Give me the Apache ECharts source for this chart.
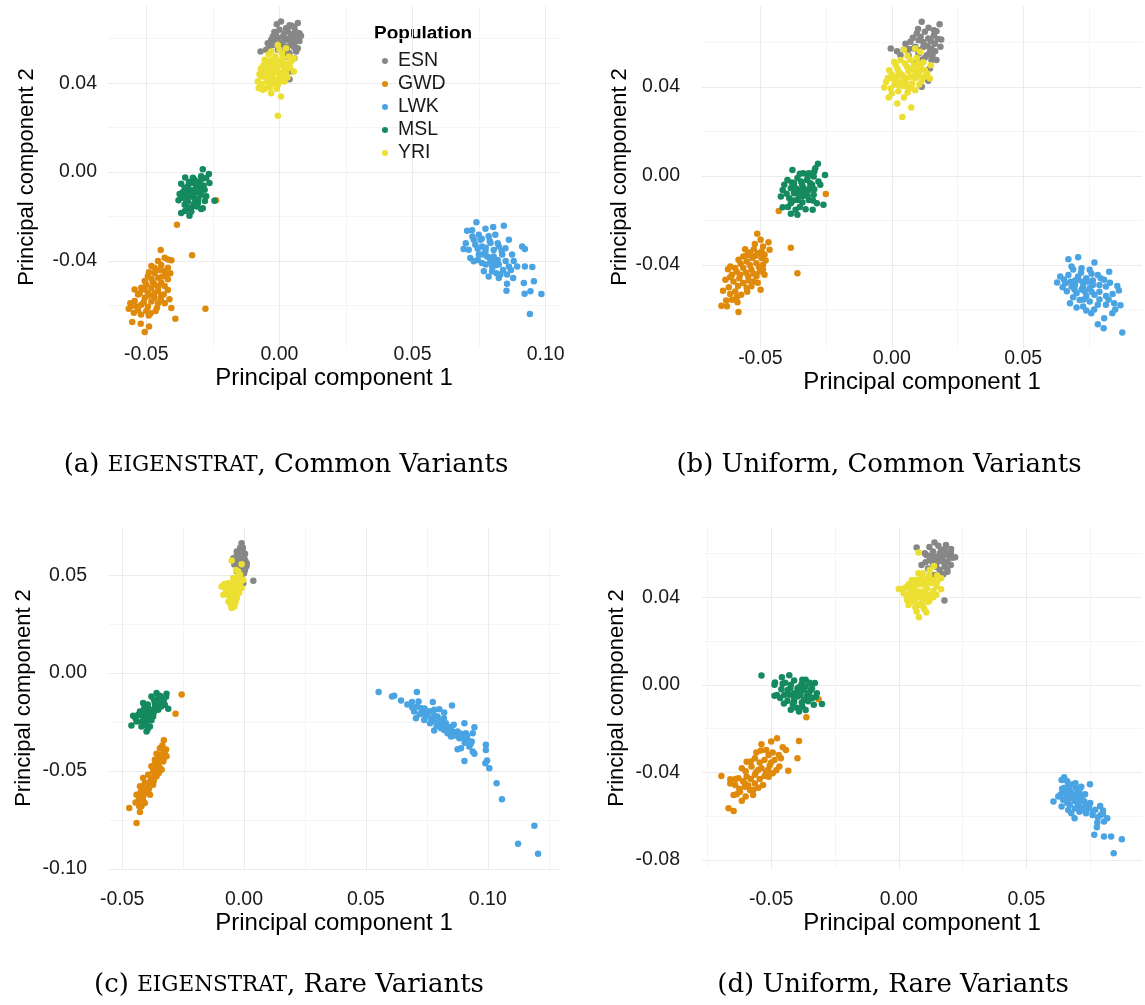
<!DOCTYPE html>
<html>
<head>
<meta charset="utf-8">
<script src="https://cdn.jsdelivr.net/npm/echarts@6/dist/echarts.min.js"></script>
<style>
html, body { margin: 0; padding: 0; background: #ffffff; }
#chart { width: 1145px; height: 1005px; }
</style>
</head>
<body>
<div id="chart"></div>
<script>
// Populations and their colours
const populations = ['ESN', 'GWD', 'LWK', 'MSL', 'YRI'];
const popColors = ['#878787', '#E08A0B', '#4AA3E3', '#15895F', '#ECDF31'];

// Axis tick values per panel
const ticksX = [[-0.05, 0.00, 0.05, 0.10], [-0.05, 0.00, 0.05], [-0.05, 0.00, 0.05, 0.10], [-0.05, 0.00, 0.05]];
const ticksY = [[-0.04, 0.00, 0.04], [-0.04, 0.00, 0.04], [-0.10, -0.05, 0.00, 0.05], [-0.08, -0.04, 0.00, 0.04]];

// Panel captions
const captionLabels = ['(a) ', '(b) Uniform, Common Variants', '(c) ', '(d) Uniform, Rare Variants'];

// ---- (a) EIGENSTRAT, common variants: [PC1, PC2] ----
const esnA = [[0.0006,0.0677],[0.0046,0.0658],[0.0069,0.0670],[0.0081,0.0613],[0.0060,0.0632],[0.0025,0.0647],[-0.0013,0.0617],[0.0013,0.0610],[0.0038,0.0602],[0.0056,0.0580],[-0.0019,0.0587],[0.0006,0.0580],[0.0031,0.0565],[0.0063,0.0542],[-0.0038,0.0565],[-0.0071,0.0542],[-0.0006,0.0550],[0.0025,0.0595],[0.0050,0.0617],[0.0038,0.0535],[0.0056,0.0512],[0.0069,0.0557],[-0.0025,0.0610],[0.0044,0.0452],[0.0038,0.0418],[-0.0044,0.0580],[0.0019,0.0625],[0.0044,0.0587],[-0.0006,0.0602],[0.0031,0.0540],[0.0013,0.0570],[-0.0025,0.0572],[0.0050,0.0570],[0.0075,0.0590],
  [0.0000,0.0640],[0.0031,0.0635],[0.0056,0.0650],[-0.0019,0.0630],[0.0019,0.0600],[0.0063,0.0605],[-0.0031,0.0595],[0.0044,0.0620],[0.0010,0.0555],[0.0075,0.0625],[-0.0050,0.0550],[0.0025,0.0520],[0.0056,0.0560],[0.0038,0.0660],[-0.0010,0.0665]];
const gwdA = [[-0.0446,-0.0350],[-0.0419,-0.0393],[-0.0406,-0.0396],[-0.0431,-0.0385],[-0.0456,-0.0400],[-0.0481,-0.0422],[-0.0444,-0.0418],[-0.0419,-0.0430],[-0.0431,-0.0445],[-0.0469,-0.0454],[-0.0494,-0.0468],[-0.0456,-0.0475],[-0.0419,-0.0482],[-0.0444,-0.0498],[-0.0506,-0.0490],[-0.0469,-0.0505],[-0.0431,-0.0512],[-0.0481,-0.0520],[-0.0519,-0.0520],[-0.0544,-0.0528],[-0.0456,-0.0535],[-0.0419,-0.0530],[-0.0494,-0.0543],[-0.0531,-0.0550],[-0.0444,-0.0557],[-0.0469,-0.0565],[-0.0506,-0.0565],[-0.0413,-0.0572],[-0.0544,-0.0580],[-0.0481,-0.0582],[-0.0456,-0.0590],[-0.0431,-0.0590],[-0.0519,-0.0597],[-0.0556,-0.0602],[-0.0494,-0.0605],[-0.0566,-0.0614],[-0.0531,-0.0620],[-0.0406,-0.0611],[-0.0547,-0.0632],[-0.0484,-0.0635],[-0.0491,-0.0645],[-0.0391,-0.0660],[-0.0553,-0.0674],[-0.0521,-0.0682],[-0.0490,-0.0694],[-0.0506,-0.0719],[-0.0385,-0.0237],[-0.0328,-0.0374],[-0.0278,-0.0614],[-0.0238,-0.0127],[-0.0469,-0.0430],[-0.0481,-0.0480],[-0.0506,-0.0528],
  [-0.0450,-0.0440],[-0.0425,-0.0460],[-0.0475,-0.0495],[-0.0500,-0.0505],[-0.0455,-0.0515],[-0.0490,-0.0555],[-0.0525,-0.0545],[-0.0470,-0.0545],[-0.0435,-0.0550],[-0.0510,-0.0585],[-0.0460,-0.0610],[-0.0535,-0.0605],[-0.0500,-0.0625],[-0.0560,-0.0590],[-0.0445,-0.0575],[-0.0465,-0.0625],[-0.0520,-0.0640],[-0.0410,-0.0455],[-0.0440,-0.0470],[-0.0490,-0.0450]];
const lwkA = [[0.0740,-0.0226],[0.0705,-0.0264],[0.0724,-0.0262],[0.0774,-0.0255],[0.0803,-0.0247],[0.0843,-0.0241],[0.0749,-0.0282],[0.0786,-0.0289],[0.0811,-0.0282],[0.0862,-0.0304],[0.0692,-0.0346],[0.0711,-0.0349],[0.0736,-0.0327],[0.0761,-0.0334],[0.0793,-0.0319],[0.0824,-0.0334],[0.0849,-0.0342],[0.0717,-0.0386],[0.0749,-0.0371],[0.0774,-0.0356],[0.0805,-0.0379],[0.0837,-0.0371],[0.0874,-0.0371],[0.0912,-0.0334],[0.0922,-0.0346],[0.0730,-0.0401],[0.0761,-0.0409],[0.0793,-0.0401],[0.0824,-0.0416],[0.0862,-0.0424],[0.0893,-0.0424],[0.0922,-0.0424],[0.0950,-0.0427],[0.0768,-0.0446],[0.0799,-0.0446],[0.0830,-0.0461],[0.0786,-0.0469],[0.0855,-0.0461],[0.0878,-0.0476],[0.0824,-0.0476],[0.0855,-0.0502],[0.0918,-0.0499],[0.0956,-0.0491],[0.0853,-0.0533],[0.0921,-0.0547],[0.0943,-0.0536],[0.0984,-0.0548],[0.0941,-0.0638],[0.0799,-0.0424],[0.0811,-0.0394],[0.0755,-0.0304],[0.0730,-0.0304],[0.0780,-0.0379],
  [0.0725,-0.0290],[0.0760,-0.0300],[0.0790,-0.0310],[0.0820,-0.0320],[0.0745,-0.0345],[0.0775,-0.0340],[0.0805,-0.0350],[0.0835,-0.0355],[0.0760,-0.0370],[0.0790,-0.0385],[0.0820,-0.0395],[0.0850,-0.0400],[0.0775,-0.0415],[0.0810,-0.0420],[0.0840,-0.0440],[0.0870,-0.0440],[0.0815,-0.0455],[0.0745,-0.0395],[0.0700,-0.0320],[0.0880,-0.0400]];
const mslA = [[-0.0288,0.0013],[-0.0265,-0.0009],[-0.0294,-0.0019],[-0.0354,-0.0024],[-0.0325,-0.0049],[-0.0369,-0.0052],[-0.0300,-0.0042],[-0.0263,-0.0049],[-0.0344,-0.0064],[-0.0313,-0.0072],[-0.0281,-0.0079],[-0.0363,-0.0091],[-0.0331,-0.0094],[-0.0294,-0.0102],[-0.0375,-0.0099],[-0.0350,-0.0109],[-0.0319,-0.0117],[-0.0275,-0.0109],[-0.0379,-0.0127],[-0.0344,-0.0132],[-0.0306,-0.0139],[-0.0244,-0.0129],[-0.0356,-0.0147],[-0.0325,-0.0154],[-0.0288,-0.0162],[-0.0369,-0.0184],[-0.0338,-0.0196],[-0.0294,-0.0166],[-0.0331,-0.0177],[-0.0313,-0.0091],[-0.0338,-0.0079],[-0.0356,-0.0072],[-0.0300,-0.0064],[-0.0275,-0.0027],[-0.0319,-0.0034],
  [-0.0340,-0.0045],[-0.0310,-0.0050],[-0.0285,-0.0060],[-0.0350,-0.0085],[-0.0320,-0.0080],[-0.0300,-0.0085],[-0.0365,-0.0115],[-0.0335,-0.0110],[-0.0305,-0.0120],[-0.0280,-0.0130],[-0.0350,-0.0130],[-0.0320,-0.0140],[-0.0340,-0.0160],[-0.0310,-0.0155],[-0.0355,-0.0175],[-0.0290,-0.0030],[-0.0325,-0.0025]];
const yriA = [[-0.0006,0.0572],[0.0025,0.0557],[-0.0031,0.0542],[-0.0056,0.0505],[0.0013,0.0512],[0.0054,0.0512],[-0.0019,0.0490],[-0.0044,0.0475],[0.0006,0.0482],[0.0031,0.0467],[-0.0063,0.0452],[-0.0025,0.0445],[0.0000,0.0437],[0.0025,0.0445],[0.0054,0.0452],[-0.0050,0.0422],[-0.0013,0.0415],[0.0019,0.0407],[-0.0038,0.0393],[-0.0081,0.0407],[-0.0078,0.0378],[-0.0063,0.0370],[-0.0031,0.0355],[0.0006,0.0340],[-0.0006,0.0253],[-0.0044,0.0460],[-0.0019,0.0460],[-0.0006,0.0393],[0.0013,0.0422],[0.0038,0.0490],[-0.0069,0.0430],[-0.0031,0.0475],[-0.0006,0.0452],[-0.0050,0.0445],[0.0000,0.0500],[-0.0025,0.0420],[0.0019,0.0467],
  [-0.0060,0.0480],[-0.0040,0.0500],[-0.0015,0.0520],[0.0010,0.0535],[0.0035,0.0520],[-0.0070,0.0465],[-0.0050,0.0430],[-0.0030,0.0440],[-0.0010,0.0470],[0.0015,0.0450],[0.0040,0.0470],[-0.0065,0.0395],[-0.0045,0.0410],[-0.0020,0.0400],[0.0005,0.0410],[0.0030,0.0425],[-0.0055,0.0375],[-0.0035,0.0380],[-0.0010,0.0375],[0.0020,0.0490],[0.0045,0.0500],[-0.0025,0.0505],[-0.0075,0.0440],[-0.0040,0.0530],[0.0000,0.0550]];

// ---- (b) Uniform, common variants ----
const esnB = [[0.0114,0.0692],[0.0182,0.0681],[0.0161,0.0654],[0.0188,0.0612],[0.0095,0.0639],[0.0126,0.0647],[0.0071,0.0602],[0.0102,0.0609],[0.0139,0.0617],[0.0164,0.0594],[-0.0004,0.0572],[0.0046,0.0567],[0.0083,0.0572],[0.0120,0.0579],[0.0151,0.0572],[0.0064,0.0542],[0.0102,0.0550],[0.0133,0.0542],[0.0170,0.0520],[0.0033,0.0542],[0.0114,0.0520],[0.0089,0.0505],[0.0145,0.0482],[0.0139,0.0427],[0.0114,0.0400],[0.0151,0.0520],[0.0052,0.0594],[0.0120,0.0600],[0.0145,0.0560],[0.0089,0.0580],[0.0160,0.0630],
  [0.0100,0.0660],[0.0140,0.0665],[0.0170,0.0650],[0.0080,0.0620],[0.0110,0.0625],[0.0150,0.0605],[0.0175,0.0615],[0.0065,0.0570],[0.0100,0.0565],[0.0135,0.0585],[0.0165,0.0560],[0.0125,0.0530],[0.0155,0.0540],[0.0020,0.0560],[0.0185,0.0580]];
const gwdB = [[-0.0512,-0.0260],[-0.0499,-0.0287],[-0.0469,-0.0298],[-0.0558,-0.0329],[-0.0521,-0.0306],[-0.0490,-0.0317],[-0.0465,-0.0332],[-0.0540,-0.0344],[-0.0509,-0.0347],[-0.0484,-0.0354],[-0.0565,-0.0362],[-0.0531,-0.0369],[-0.0496,-0.0369],[-0.0583,-0.0377],[-0.0552,-0.0384],[-0.0515,-0.0392],[-0.0490,-0.0399],[-0.0623,-0.0419],[-0.0596,-0.0414],[-0.0565,-0.0414],[-0.0534,-0.0422],[-0.0502,-0.0429],[-0.0608,-0.0444],[-0.0577,-0.0444],[-0.0546,-0.0451],[-0.0515,-0.0451],[-0.0484,-0.0444],[-0.0633,-0.0466],[-0.0602,-0.0474],[-0.0565,-0.0481],[-0.0534,-0.0496],[-0.0499,-0.0511],[-0.0642,-0.0516],[-0.0596,-0.0519],[-0.0573,-0.0534],[-0.0608,-0.0556],[-0.0587,-0.0568],[-0.0648,-0.0583],[-0.0627,-0.0586],[-0.0583,-0.0611],[-0.0552,-0.0504],[-0.0614,-0.0407],[-0.0527,-0.0474],[-0.0430,-0.0158],[-0.0384,-0.0323],[-0.0359,-0.0437],[-0.0251,-0.0081],
  [-0.0525,-0.0330],[-0.0495,-0.0340],[-0.0550,-0.0355],[-0.0520,-0.0360],[-0.0575,-0.0395],[-0.0540,-0.0400],[-0.0505,-0.0410],[-0.0590,-0.0430],[-0.0555,-0.0435],[-0.0525,-0.0440],[-0.0490,-0.0420],[-0.0615,-0.0455],[-0.0580,-0.0460],[-0.0545,-0.0470],[-0.0510,-0.0480],[-0.0620,-0.0500],[-0.0585,-0.0495],[-0.0550,-0.0520],[-0.0615,-0.0530],[-0.0590,-0.0545],[-0.0630,-0.0560],[-0.0480,-0.0380]];
const lwkB = [[0.0672,-0.0374],[0.0709,-0.0365],[0.0771,-0.0389],[0.0684,-0.0407],[0.0722,-0.0415],[0.0753,-0.0422],[0.0827,-0.0430],[0.0641,-0.0452],[0.0672,-0.0445],[0.0709,-0.0452],[0.0740,-0.0460],[0.0784,-0.0445],[0.0808,-0.0467],[0.0629,-0.0479],[0.0660,-0.0482],[0.0697,-0.0490],[0.0728,-0.0497],[0.0765,-0.0490],[0.0815,-0.0497],[0.0858,-0.0494],[0.0666,-0.0518],[0.0703,-0.0527],[0.0734,-0.0518],[0.0771,-0.0534],[0.0864,-0.0515],[0.0678,-0.0572],[0.0715,-0.0557],[0.0753,-0.0564],[0.0815,-0.0539],[0.0846,-0.0572],[0.0870,-0.0581],[0.0703,-0.0591],[0.0728,-0.0587],[0.0759,-0.0617],[0.0784,-0.0579],[0.0815,-0.0579],[0.0839,-0.0617],[0.0808,-0.0639],[0.0784,-0.0666],[0.0806,-0.0684],[0.0877,-0.0703],[0.0746,-0.0475],[0.0684,-0.0497],[0.0709,-0.0467],[0.0722,-0.0510],[0.0697,-0.0470],[0.0753,-0.0505],[0.0740,-0.0540],
  [0.0690,-0.0420],[0.0720,-0.0435],[0.0760,-0.0440],[0.0795,-0.0460],[0.0655,-0.0465],[0.0680,-0.0475],[0.0725,-0.0475],[0.0765,-0.0470],[0.0790,-0.0490],[0.0830,-0.0480],[0.0650,-0.0500],[0.0695,-0.0510],[0.0760,-0.0520],[0.0790,-0.0520],[0.0840,-0.0530],[0.0690,-0.0545],[0.0730,-0.0555],[0.0790,-0.0555],[0.0825,-0.0555],[0.0770,-0.0600],[0.0850,-0.0600],[0.0740,-0.0605]];
const mslB = [[-0.0281,0.0054],[-0.0291,0.0034],[-0.0316,0.0012],[-0.0378,0.0027],[-0.0337,0.0012],[-0.0254,0.0004],[-0.0297,-0.0003],[-0.0359,-0.0010],[-0.0397,-0.0018],[-0.0322,-0.0018],[-0.0279,-0.0025],[-0.0372,-0.0033],[-0.0409,-0.0040],[-0.0341,-0.0040],[-0.0303,-0.0040],[-0.0384,-0.0055],[-0.0353,-0.0063],[-0.0316,-0.0063],[-0.0272,-0.0040],[-0.0415,-0.0063],[-0.0372,-0.0078],[-0.0335,-0.0078],[-0.0297,-0.0085],[-0.0422,-0.0093],[-0.0390,-0.0100],[-0.0359,-0.0108],[-0.0316,-0.0108],[-0.0285,-0.0123],[-0.0260,-0.0130],[-0.0384,-0.0123],[-0.0415,-0.0141],[-0.0366,-0.0152],[-0.0328,-0.0150],[-0.0301,-0.0152],[-0.0384,-0.0170],[-0.0359,-0.0175],[-0.0341,-0.0093],[-0.0310,-0.0033],
  [-0.0350,0.0010],[-0.0320,-0.0005],[-0.0295,0.0020],[-0.0380,-0.0030],[-0.0345,-0.0025],[-0.0310,-0.0050],[-0.0365,-0.0055],[-0.0335,-0.0055],[-0.0295,-0.0060],[-0.0400,-0.0080],[-0.0355,-0.0085],[-0.0320,-0.0090],[-0.0375,-0.0110],[-0.0340,-0.0120],[-0.0300,-0.0110],[-0.0395,-0.0140],[-0.0350,-0.0140]];
const yriB = [[0.0046,0.0567],[0.0089,0.0572],[0.0108,0.0557],[0.0009,0.0512],[0.0033,0.0520],[0.0071,0.0520],[0.0102,0.0505],[0.0149,0.0497],[-0.0010,0.0475],[0.0021,0.0482],[0.0058,0.0490],[0.0089,0.0475],[0.0126,0.0475],[-0.0022,0.0422],[0.0002,0.0437],[0.0040,0.0452],[0.0071,0.0445],[0.0102,0.0452],[0.0145,0.0437],[-0.0004,0.0393],[0.0027,0.0407],[0.0058,0.0400],[0.0089,0.0385],[-0.0029,0.0397],[-0.0012,0.0352],[0.0021,0.0325],[0.0046,0.0352],[0.0074,0.0307],[0.0040,0.0265],[0.0015,0.0430],[0.0052,0.0422],[0.0077,0.0415],[0.0114,0.0430],[0.0064,0.0470],[0.0033,0.0460],[0.0089,0.0455],[0.0040,0.0425],[0.0110,0.0490],
  [0.0015,0.0500],[0.0050,0.0505],[0.0085,0.0500],[0.0120,0.0510],[0.0000,0.0455],[0.0025,0.0470],[0.0070,0.0480],[0.0105,0.0470],[0.0135,0.0460],[-0.0015,0.0440],[0.0020,0.0445],[0.0055,0.0440],[0.0090,0.0440],[0.0125,0.0445],[0.0010,0.0410],[0.0040,0.0405],[0.0075,0.0395],[0.0105,0.0410],[0.0025,0.0380],[0.0060,0.0375],[0.0000,0.0370],[0.0095,0.0530],[0.0060,0.0540]];

// ---- (c) EIGENSTRAT, rare variants ----
const esnC = [[-0.0010,0.0663],[-0.0030,0.0621],[0.0004,0.0609],[-0.0044,0.0587],[-0.0016,0.0578],[0.0011,0.0561],[-0.0023,0.0544],[0.0004,0.0527],[-0.0010,0.0502],[-0.0030,0.0519],[0.0038,0.0471],[-0.0003,0.0459],[-0.0023,0.0604],[-0.0005,0.0553],[-0.0016,0.0640],[0.0000,0.0590],[-0.0037,0.0570],[-0.0010,0.0540],
  [-0.0030,0.0600],[-0.0005,0.0620],[-0.0040,0.0555],[-0.0015,0.0565],[0.0005,0.0575],[-0.0025,0.0530],[0.0000,0.0510],[-0.0005,0.0640],[-0.0020,0.0490],[0.0010,0.0545]];
const gwdC = [[-0.0329,-0.0343],[-0.0345,-0.0383],[-0.0325,-0.0400],[-0.0359,-0.0411],[-0.0318,-0.0425],[-0.0366,-0.0442],[-0.0332,-0.0451],[-0.0352,-0.0476],[-0.0380,-0.0476],[-0.0338,-0.0493],[-0.0393,-0.0519],[-0.0359,-0.0527],[-0.0386,-0.0553],[-0.0407,-0.0561],[-0.0373,-0.0570],[-0.0427,-0.0578],[-0.0400,-0.0595],[-0.0441,-0.0621],[-0.0414,-0.0629],[-0.0386,-0.0621],[-0.0434,-0.0655],[-0.0407,-0.0663],[-0.0421,-0.0680],[-0.0471,-0.0689],[-0.0427,-0.0709],[-0.0441,-0.0765],[-0.0373,-0.0502],[-0.0393,-0.0612],[-0.0366,-0.0468],[-0.0414,-0.0536],[-0.0256,-0.0109],[-0.0281,-0.0207],[-0.0352,-0.0450],[-0.0380,-0.0540],[-0.0400,-0.0570],[-0.0420,-0.0600],[-0.0345,-0.0430],
  [-0.0335,-0.0370],[-0.0320,-0.0390],[-0.0340,-0.0415],[-0.0330,-0.0440],[-0.0355,-0.0460],[-0.0345,-0.0485],[-0.0365,-0.0510],[-0.0350,-0.0510],[-0.0375,-0.0535],[-0.0390,-0.0560],[-0.0370,-0.0550],[-0.0410,-0.0585],[-0.0390,-0.0590],[-0.0425,-0.0610],[-0.0405,-0.0610],[-0.0430,-0.0635],[-0.0415,-0.0645],[-0.0445,-0.0660],[-0.0430,-0.0680],[-0.0360,-0.0480]];
const lwkC = [[0.0552,-0.0097],[0.0607,-0.0119],[0.0616,-0.0116],[0.0644,-0.0140],[0.0709,-0.0097],[0.0689,-0.0148],[0.0716,-0.0145],[0.0774,-0.0148],[0.0698,-0.0196],[0.0726,-0.0179],[0.0753,-0.0204],[0.0780,-0.0187],[0.0801,-0.0184],[0.0821,-0.0201],[0.0853,-0.0165],[0.0705,-0.0230],[0.0739,-0.0239],[0.0767,-0.0230],[0.0794,-0.0222],[0.0815,-0.0247],[0.0763,-0.0256],[0.0801,-0.0264],[0.0828,-0.0256],[0.0860,-0.0264],[0.0904,-0.0256],[0.0945,-0.0276],[0.0780,-0.0293],[0.0821,-0.0290],[0.0849,-0.0290],[0.0876,-0.0298],[0.0910,-0.0307],[0.0938,-0.0307],[0.0849,-0.0324],[0.0883,-0.0332],[0.0917,-0.0341],[0.0934,-0.0349],[0.0876,-0.0389],[0.0890,-0.0383],[0.0924,-0.0375],[0.0938,-0.0400],[0.0945,-0.0412],[0.0992,-0.0366],[0.0992,-0.0392],[0.0904,-0.0448],[0.0997,-0.0446],[0.0990,-0.0460],[0.1006,-0.0486],[0.1036,-0.0562],[0.1058,-0.0644],[0.1191,-0.0779],[0.1124,-0.0871],[0.1206,-0.0922],[0.0835,-0.0307],[0.0808,-0.0281],[0.0733,-0.0204],[0.0869,-0.0315],
  [0.0710,-0.0170],[0.0740,-0.0180],[0.0760,-0.0195],[0.0720,-0.0210],[0.0745,-0.0220],[0.0780,-0.0215],[0.0775,-0.0245],[0.0800,-0.0245],[0.0790,-0.0270],[0.0815,-0.0270],[0.0840,-0.0275],[0.0835,-0.0295],[0.0860,-0.0300],[0.0860,-0.0320],[0.0890,-0.0310],[0.0900,-0.0330],[0.0915,-0.0320],[0.0905,-0.0355],[0.0930,-0.0360],[0.0690,-0.0175],[0.0670,-0.0160],[0.0820,-0.0230]];
const mslC = [[-0.0359,-0.0102],[-0.0318,-0.0105],[-0.0380,-0.0119],[-0.0338,-0.0128],[-0.0414,-0.0153],[-0.0366,-0.0153],[-0.0325,-0.0162],[-0.0393,-0.0179],[-0.0352,-0.0187],[-0.0311,-0.0182],[-0.0427,-0.0196],[-0.0386,-0.0204],[-0.0455,-0.0218],[-0.0414,-0.0221],[-0.0373,-0.0221],[-0.0441,-0.0247],[-0.0400,-0.0247],[-0.0462,-0.0267],[-0.0421,-0.0272],[-0.0386,-0.0272],[-0.0400,-0.0298],[-0.0338,-0.0145],[-0.0434,-0.0213],[-0.0407,-0.0196],[-0.0366,-0.0175],[-0.0393,-0.0230],[-0.0352,-0.0130],
  [-0.0345,-0.0115],[-0.0330,-0.0140],[-0.0370,-0.0135],[-0.0395,-0.0160],[-0.0355,-0.0160],[-0.0380,-0.0190],[-0.0340,-0.0170],[-0.0410,-0.0180],[-0.0370,-0.0200],[-0.0425,-0.0215],[-0.0400,-0.0215],[-0.0380,-0.0240],[-0.0445,-0.0230],[-0.0420,-0.0250],[-0.0410,-0.0265],[-0.0395,-0.0285],[-0.0320,-0.0120]];
const yriC = [[-0.0051,0.0575],[-0.0010,0.0556],[-0.0033,0.0527],[-0.0016,0.0502],[-0.0044,0.0485],[-0.0003,0.0476],[-0.0064,0.0459],[-0.0030,0.0451],[-0.0092,0.0442],[-0.0051,0.0434],[-0.0010,0.0434],[-0.0071,0.0408],[-0.0037,0.0408],[-0.0085,0.0400],[-0.0058,0.0383],[-0.0030,0.0383],[-0.0064,0.0366],[-0.0044,0.0349],[-0.0051,0.0332],[-0.0023,0.0425],[-0.0037,0.0476],[-0.0016,0.0459],[-0.0058,0.0425],[-0.0040,0.0440],[-0.0025,0.0495],[-0.0048,0.0395],
  [-0.0060,0.0445],[-0.0075,0.0430],[-0.0045,0.0460],[-0.0030,0.0470],[-0.0020,0.0440],[-0.0070,0.0415],[-0.0050,0.0420],[-0.0035,0.0425],[-0.0020,0.0410],[-0.0060,0.0395],[-0.0040,0.0395],[-0.0050,0.0370],[-0.0035,0.0360],[-0.0055,0.0350],[-0.0040,0.0340],[-0.0025,0.0520],[-0.0015,0.0485],[-0.0080,0.0455]];

// ---- (d) Uniform, rare variants ----
const esnD = [[0.0140,0.0650],[0.0185,0.0639],[0.0070,0.0627],[0.0102,0.0601],[0.0134,0.0609],[0.0166,0.0616],[0.0204,0.0604],[0.0221,0.0583],[0.0089,0.0548],[0.0121,0.0570],[0.0153,0.0578],[0.0191,0.0563],[0.0115,0.0532],[0.0147,0.0540],[0.0179,0.0540],[0.0204,0.0548],[0.0166,0.0510],[0.0191,0.0517],[0.0140,0.0502],[0.0179,0.0385],[0.0108,0.0593],[0.0172,0.0586],[0.0134,0.0555],[0.0160,0.0600],[0.0150,0.0560],[0.0195,0.0590],
  [0.0120,0.0630],[0.0155,0.0635],[0.0180,0.0620],[0.0125,0.0590],[0.0145,0.0585],[0.0185,0.0600],[0.0210,0.0580],[0.0130,0.0570],[0.0170,0.0565],[0.0190,0.0530],[0.0160,0.0525],[0.0105,0.0560],[0.0205,0.0620],[0.0175,0.0505]];
const gwdD = [[-0.0477,-0.0244],[-0.0500,-0.0259],[-0.0391,-0.0256],[-0.0538,-0.0271],[-0.0455,-0.0285],[-0.0442,-0.0297],[-0.0519,-0.0297],[-0.0558,-0.0309],[-0.0494,-0.0309],[-0.0397,-0.0335],[-0.0596,-0.0351],[-0.0564,-0.0335],[-0.0526,-0.0343],[-0.0487,-0.0343],[-0.0462,-0.0335],[-0.0615,-0.0381],[-0.0577,-0.0373],[-0.0538,-0.0381],[-0.0506,-0.0370],[-0.0468,-0.0373],[-0.0433,-0.0392],[-0.0695,-0.0416],[-0.0660,-0.0431],[-0.0628,-0.0427],[-0.0596,-0.0419],[-0.0564,-0.0411],[-0.0526,-0.0416],[-0.0494,-0.0404],[-0.0641,-0.0457],[-0.0603,-0.0450],[-0.0564,-0.0450],[-0.0532,-0.0457],[-0.0647,-0.0503],[-0.0622,-0.0488],[-0.0583,-0.0480],[-0.0571,-0.0503],[-0.0615,-0.0529],[-0.0667,-0.0564],[-0.0647,-0.0576],[-0.0603,-0.0465],[-0.0551,-0.0389],[-0.0513,-0.0389],[-0.0314,-0.0066],[-0.0362,-0.0148],
  [-0.0540,-0.0300],[-0.0510,-0.0320],[-0.0470,-0.0320],[-0.0580,-0.0350],[-0.0545,-0.0355],[-0.0500,-0.0355],[-0.0600,-0.0395],[-0.0560,-0.0400],[-0.0520,-0.0400],[-0.0480,-0.0390],[-0.0640,-0.0430],[-0.0610,-0.0440],[-0.0580,-0.0430],[-0.0545,-0.0430],[-0.0510,-0.0420],[-0.0625,-0.0475],[-0.0590,-0.0460],[-0.0550,-0.0470],[-0.0600,-0.0510],[-0.0635,-0.0500],[-0.0570,-0.0480],[-0.0660,-0.0450]];
const lwkD = [[0.0648,-0.0422],[0.0638,-0.0434],[0.0692,-0.0449],[0.0749,-0.0454],[0.0664,-0.0465],[0.0695,-0.0472],[0.0651,-0.0487],[0.0676,-0.0495],[0.0708,-0.0480],[0.0625,-0.0510],[0.0606,-0.0533],[0.0644,-0.0525],[0.0676,-0.0518],[0.0708,-0.0510],[0.0727,-0.0533],[0.0638,-0.0556],[0.0670,-0.0548],[0.0702,-0.0548],[0.0740,-0.0563],[0.0676,-0.0586],[0.0708,-0.0579],[0.0734,-0.0586],[0.0759,-0.0594],[0.0791,-0.0594],[0.0789,-0.0553],[0.0800,-0.0574],[0.0817,-0.0609],[0.0804,-0.0624],[0.0778,-0.0629],[0.0776,-0.0650],[0.0766,-0.0685],[0.0804,-0.0693],[0.0832,-0.0693],[0.0874,-0.0705],[0.0842,-0.0769],[0.0689,-0.0609],[0.0664,-0.0571],[0.0715,-0.0503],[0.0746,-0.0556],[0.0660,-0.0500],[0.0690,-0.0530],[0.0715,-0.0560],[0.0650,-0.0470],
  [0.0660,-0.0440],[0.0680,-0.0455],[0.0715,-0.0465],[0.0640,-0.0475],[0.0670,-0.0480],[0.0700,-0.0490],[0.0730,-0.0500],[0.0635,-0.0500],[0.0690,-0.0505],[0.0720,-0.0525],[0.0750,-0.0540],[0.0655,-0.0520],[0.0705,-0.0535],[0.0735,-0.0550],[0.0770,-0.0570],[0.0690,-0.0565],[0.0725,-0.0570],[0.0760,-0.0580],[0.0800,-0.0590],[0.0780,-0.0605],[0.0660,-0.0540]];
const mslD = [[-0.0538,0.0043],[-0.0458,0.0035],[-0.0429,0.0044],[-0.0485,0.0011],[-0.0487,0.0000],[-0.0455,0.0005],[-0.0423,0.0000],[-0.0378,0.0023],[-0.0365,0.0023],[-0.0329,0.0008],[-0.0397,-0.0015],[-0.0365,-0.0008],[-0.0340,-0.0015],[-0.0436,-0.0023],[-0.0487,-0.0050],[-0.0477,-0.0046],[-0.0449,-0.0046],[-0.0410,-0.0038],[-0.0385,-0.0046],[-0.0353,-0.0038],[-0.0321,-0.0038],[-0.0436,-0.0072],[-0.0410,-0.0076],[-0.0372,-0.0069],[-0.0340,-0.0061],[-0.0301,-0.0087],[-0.0423,-0.0114],[-0.0391,-0.0122],[-0.0378,-0.0099],[-0.0333,-0.0091],[-0.0397,-0.0053],[-0.0372,-0.0023],[-0.0390,-0.0030],[-0.0410,-0.0060],[-0.0360,-0.0050],
  [-0.0445,0.0010],[-0.0410,0.0020],[-0.0380,0.0005],[-0.0350,0.0010],[-0.0460,-0.0020],[-0.0425,-0.0015],[-0.0390,-0.0010],[-0.0345,-0.0025],[-0.0465,-0.0060],[-0.0430,-0.0045],[-0.0395,-0.0040],[-0.0350,-0.0050],[-0.0325,-0.0055],[-0.0450,-0.0085],[-0.0415,-0.0090],[-0.0380,-0.0080],[-0.0355,-0.0075],[-0.0400,-0.0105],[-0.0365,-0.0115]];
const yriD = [[0.0077,0.0605],[0.0138,0.0543],[0.0121,0.0525],[0.0077,0.0510],[0.0051,0.0479],[0.0089,0.0487],[0.0134,0.0479],[0.0166,0.0487],[0.0000,0.0438],[0.0032,0.0449],[0.0064,0.0456],[0.0102,0.0456],[0.0147,0.0449],[0.0166,0.0437],[0.0019,0.0418],[0.0051,0.0418],[0.0089,0.0426],[0.0121,0.0411],[0.0147,0.0411],[0.0032,0.0388],[0.0064,0.0388],[0.0102,0.0395],[0.0038,0.0365],[0.0077,0.0365],[0.0096,0.0357],[0.0070,0.0335],[0.0108,0.0330],[0.0079,0.0309],[0.0115,0.0380],[0.0057,0.0441],[0.0070,0.0430],[0.0100,0.0470],[0.0045,0.0400],[0.0085,0.0400],
  [0.0095,0.0510],[0.0120,0.0500],[0.0070,0.0480],[0.0110,0.0485],[0.0150,0.0470],[0.0040,0.0460],[0.0080,0.0460],[0.0125,0.0465],[0.0020,0.0440],[0.0045,0.0430],[0.0110,0.0440],[0.0135,0.0430],[0.0030,0.0410],[0.0070,0.0410],[0.0105,0.0415],[0.0135,0.0400],[0.0055,0.0380],[0.0090,0.0375],[0.0120,0.0385],[0.0065,0.0355],[0.0100,0.0345],[0.0150,0.0500]];

const panelSeries = [
  [esnA, gwdA, lwkA, mslA, yriA],
  [esnB, gwdB, lwkB, mslB, yriB],
  [esnC, gwdC, lwkC, mslC, yriC],
  [esnD, gwdD, lwkD, mslD, yriD]
];

// Panel geometry and axis extents
const panels = [
  { left: 108, top: 6,   width: 452, height: 342, xr: [-0.0644, 0.1054], yr: [-0.0791, 0.0747], xs: 0.05, ys: 0.04, xLabMargin: -3, xNameGap: 17, yLabMargin: 11, yNameGap: 70, yMinLine: false },
  { left: 702, top: 6,   width: 450, height: 342, xr: [-0.0722, 0.0952], yr: [-0.0773, 0.0763], xs: 0.05, ys: 0.04, xLabMargin: 1,  xNameGap: 22, yLabMargin: 22, yNameGap: 71, yMinLine: false },
  { left: 109, top: 527, width: 450, height: 342, xr: [-0.0554, 0.1292], yr: [-0.1000, 0.0746], xs: 0.05, ys: 0.05, xLabMargin: 21, xNameGap: 42, yLabMargin: 22, yNameGap: 74, yMinLine: true },
  { left: 702, top: 527, width: 450, height: 342, xr: [-0.0771, 0.0953], yr: [-0.0841, 0.0721], xs: 0.05, ys: 0.04, xLabMargin: 21, xNameGap: 42, yLabMargin: 22, yNameGap: 74, yMinLine: false }
];

const sansFont = 'Liberation Sans, Arial, sans-serif';
const serifFont = 'DejaVu Serif, serif';

function tickFormatter(list) {
  return function (v) {
    for (const t of list) {
      if (Math.abs(v - t) < 1e-9) return t.toFixed(2);
    }
    return '';
  };
}

function makeAxis(dim, i, p) {
  const isX = dim === 'x';
  const range = isX ? p.xr : p.yr;
  const step = isX ? p.xs : p.ys;
  return {
    type: 'value',
    gridIndex: i,
    min: range[0],
    max: range[1],
    minInterval: step,
    maxInterval: step,
    axisLine: { show: false },
    axisTick: { show: false },
    minorTick: { show: false, splitNumber: 2 },
    splitLine: {
      show: true,
      showMinLine: isX ? false : p.yMinLine,
      showMaxLine: false,
      lineStyle: { color: '#EBEBEB', width: 1 }
    },
    minorSplitLine: { show: true, lineStyle: { color: '#F3F3F3', width: 0.8 } },
    axisLabel: {
      show: true,
      margin: isX ? p.xLabMargin : p.yLabMargin,
      fontFamily: sansFont,
      fontSize: 19.5,
      color: '#1a1a1a',
      formatter: tickFormatter(isX ? ticksX[i] : ticksY[i])
    },
    name: isX ? 'Principal component 1' : 'Principal component 2',
    nameLocation: 'middle',
    nameGap: isX ? p.xNameGap : p.yNameGap,
    nameTextStyle: { fontFamily: sansFont, fontSize: isX ? 24 : 22, color: '#000000' }
  };
}

const grids = panels.map(p => ({ left: p.left, top: p.top, width: p.width, height: p.height, containLabel: false }));
const xAxes = panels.map((p, i) => makeAxis('x', i, p));
const yAxes = panels.map((p, i) => makeAxis('y', i, p));

const series = [];
panelSeries.forEach((sets, pi) => {
  sets.forEach((pts, k) => {
    series.push({
      type: 'scatter',
      name: populations[k],
      xAxisIndex: pi,
      yAxisIndex: pi,
      data: pts,
      symbol: 'circle',
      symbolSize: 6.5,
      itemStyle: { color: popColors[k], opacity: 1 },
      silent: true,
      z: 2 + k
    });
  });
});

// Sub-figure captions with small-caps method name
const capSize = 26;
const rich = {
  n: { fontFamily: serifFont, fontSize: capSize, color: '#000000' },
  sc: { fontFamily: serifFont, fontSize: 21.5, color: '#000000' }
};
function caption(x, y, text) {
  return {
    type: 'text', x: x, y: y, silent: true,
    style: { text: text, align: 'center', verticalAlign: 'middle', rich: rich, fontFamily: serifFont, fontSize: capSize, fill: '#000000' }
  };
}

const graphics = [
  caption(286, 465, '{n|' + captionLabels[0] + '}{sc|EIGENSTRAT}{n|, Common Variants}'),
  caption(879, 465, '{n|' + captionLabels[1] + '}'),
  caption(289, 985, '{n|' + captionLabels[2] + '}{sc|EIGENSTRAT}{n|, Rare Variants}'),
  caption(893, 985, '{n|' + captionLabels[3] + '}'),
  {
    type: 'text', x: 374, y: 34, silent: true,
    style: { text: 'Population', fontFamily: sansFont, fontSize: 19, fontWeight: 'bold', fill: '#000000', align: 'left', verticalAlign: 'middle' }
  }
];

const chart = echarts.init(document.getElementById('chart'), null, { renderer: 'canvas' });
chart.setOption({
  animation: false,
  backgroundColor: '#ffffff',
  grid: grids,
  xAxis: xAxes,
  yAxis: yAxes,
  legend: {
    data: populations.map(n => ({ name: n, icon: 'circle' })),
    orient: 'vertical',
    left: 377,
    top: 46,
    itemWidth: 16,
    itemHeight: 6,
    itemGap: 3,
    selectedMode: false,
    textStyle: { fontFamily: sansFont, fontSize: 19.5, color: '#1a1a1a', lineHeight: 20 }
  },
  graphic: graphics,
  series: series
});
</script>
</body>
</html>
